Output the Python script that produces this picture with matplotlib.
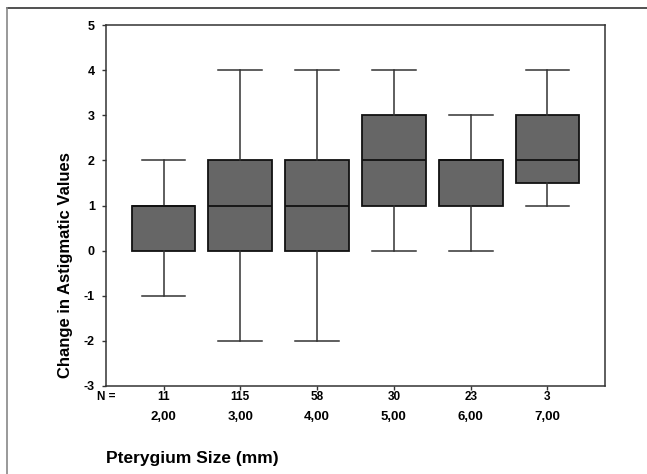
import matplotlib
matplotlib.use("Agg")
import matplotlib.pyplot as plt
from matplotlib.lines import Line2D

plt.rcParams['font.family'] = ['Liberation Sans', 'DejaVu Sans']
plt.rcParams['axes.unicode_minus'] = False

# data
sizes = ["2,00", "3,00", "4,00", "5,00", "6,00", "7,00"]
counts = [11, 115, 58, 30, 23, 3]
whis_lo = [-1, -2, -2, 0, 0, 1]
q1 = [0, 0, 0, 1, 1, 1.5]
med = [1, 1, 1, 2, 2, 2]
q3 = [1, 2, 2, 3, 2, 3]
whis_hi = [2, 4, 4, 4, 3, 4]

stats = []
for i in range(len(sizes)):
    stats.append(dict(label=sizes[i], whislo=whis_lo[i], q1=q1[i], med=med[i],
                      q3=q3[i], whishi=whis_hi[i], fliers=[]))

fig = plt.figure(figsize=(6.47, 4.74), dpi=100)
ax = fig.add_axes([106 / 647, 1 - 386 / 474, 499 / 647, 361 / 474])

positions = list(range(1, len(sizes) + 1))
ax.bxp(stats, positions=positions, widths=0.83, patch_artist=True, showfliers=False,
       boxprops=dict(facecolor='#666666', edgecolor='#111111', linewidth=1.3),
       medianprops=dict(color='#111111', linewidth=1.3),
       whiskerprops=dict(color='#333333', linewidth=1.1),
       capprops=dict(color='#333333', linewidth=1.1),
       capwidths=0.57)

ax.set_xlim(0.25, 6.75)
ax.set_ylim(-3, 5)
ax.set_yticks(range(-3, 6))
ax.set_xticks(positions)
ax.set_xticklabels([])
ax.tick_params(axis='both', direction='out', length=3, width=1, color='#333333')
ax.tick_params(axis='y', labelsize=9, pad=5)
for lab in ax.get_yticklabels():
    lab.set_fontweight('bold')
for sp in ax.spines.values():
    sp.set_color('#333333')
    sp.set_linewidth(1.1)

tr = ax.get_xaxis_transform()
ax.text(0.0, -0.03, "N =", transform=ax.transAxes, ha='center', va='center',
        fontsize=8.5, fontweight='bold')
for p, n, s in zip(positions, counts, sizes):
    ax.text(p, -0.03, str(n), transform=tr, ha='center', va='center',
            fontsize=8.5, fontweight='bold')
    ax.text(p, -0.086, s, transform=tr, ha='center', va='center',
            fontsize=9.5, fontweight='bold')

ax.text(0.0, -0.2, "Pterygium Size (mm)", transform=ax.transAxes, ha='left',
        va='center', fontsize=12.5, fontweight='bold')
ax.set_ylabel("Change in Astigmatic Values", fontsize=12, fontweight='bold')
ax.yaxis.set_label_coords(-0.066, 0.335)

# outer frame of the figure
fig.add_artist(Line2D([7 / 647, 1], [1 - 8 / 474, 1 - 8 / 474], color='#333333', linewidth=1.2))
fig.add_artist(Line2D([7 / 647, 7 / 647], [0, 1 - 8 / 474], color='#888888', linewidth=1.2))

fig.savefig("out.png", dpi=100)
